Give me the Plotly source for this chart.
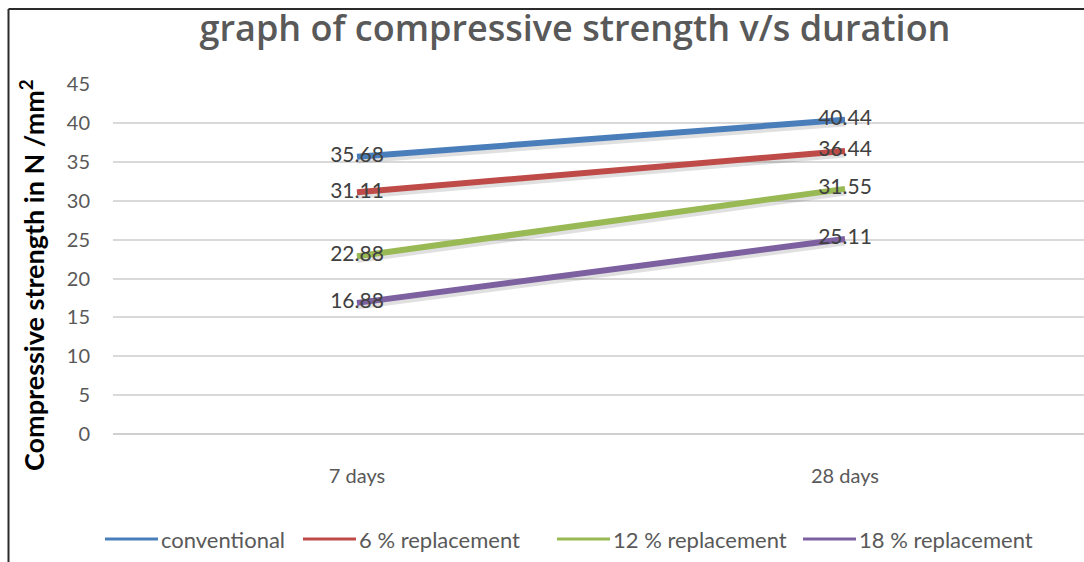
import plotly.graph_objects as go

# Curing duration categories and compressive strength (N/mm²) per mix
durations = ["7 days", "28 days"]
series_names = ["conventional", "6 % replacement", "12 % replacement", "18 % replacement"]
conventional = [35.68, 40.44]
replacement_6 = [31.11, 36.44]
replacement_12 = [22.88, 31.55]
replacement_18 = [16.88, 25.11]
y_ticks = [0, 5, 10, 15, 20, 25, 30, 35, 40, 45]

series_values = [conventional, replacement_6, replacement_12, replacement_18]
colors = ["#4A7EBB", "#BE4B48", "#98B954", "#7D60A0"]

W, H = 1084, 562
PLOT_L, PLOT_R, PLOT_T, PLOT_B = 113, 1084, 84, 434
plot_w = PLOT_R - PLOT_L
plot_h = PLOT_B - PLOT_T


def px_x(px):
    """Horizontal pixel position -> paper fraction."""
    return (px - PLOT_L) / plot_w


def px_y(py):
    """Vertical pixel position (from top) -> paper fraction."""
    return (PLOT_B - py) / plot_h


fig = go.Figure()

# soft drop shadow under each line
for vals in series_values:
    fig.add_trace(go.Scatter(
        x=durations, y=[v - 0.35 for v in vals], mode="lines",
        line=dict(color="rgba(0,0,0,0.12)", width=8),
        hoverinfo="skip", showlegend=False,
    ))

# thick data lines with value labels
for name, vals, col in zip(series_names, series_values, colors):
    fig.add_trace(go.Scatter(
        x=durations, y=vals, mode="lines+text", name=name,
        line=dict(color=col, width=6),
        text=[f"{v:.2f}" for v in vals], textposition="middle center",
        textfont=dict(family="Lato", size=21, color="#404040"),
        showlegend=False,
    ))

px_per_cat = 488
x0 = -(357 - PLOT_L) / px_per_cat
x1 = x0 + plot_w / px_per_cat

fig.update_layout(
    width=W, height=H,
    margin=dict(l=PLOT_L, r=W - PLOT_R, t=PLOT_T, b=H - PLOT_B, autoexpand=False),
    paper_bgcolor="white", plot_bgcolor="white",
    showlegend=False,
    title=dict(
        text="graph of compressive strength v/s duration",
        font=dict(family="Open Sans", size=36, color="#595959", weight=600),
        x=575 / W, xanchor="center", xref="container",
        y=1 - 28 / H, yanchor="middle", yref="container",
    ),
    xaxis=dict(
        type="category", range=[x0, x1], showgrid=False, zeroline=False,
        showline=False, ticks="", ticklabelstandoff=28,
        tickfont=dict(family="Lato", size=20, color="#595959"),
    ),
    yaxis=dict(
        range=[0, 45.05], tickvals=y_ticks, showgrid=True, gridcolor="#D9D9D9",
        gridwidth=1.5, zeroline=True, zerolinecolor="#D0D0D0", zerolinewidth=1.5,
        showline=False, ticks="", ticklabelstandoff=22,
        tickfont=dict(family="Lato", size=20, color="#595959"),
    ),
)

# rotated axis title
fig.add_annotation(
    text="Compressive strength in N /mm<sup>2</sup>",
    xref="paper", yref="paper",
    x=px_x(32), y=px_y(275),
    textangle=-90, showarrow=False, xanchor="center", yanchor="middle",
    font=dict(family="Lato", size=27, color="#000000", weight="bold"),
)

# legend row along the bottom: short coloured key line followed by its label
legend_y = 539
legend_starts = [105, 303, 557, 803]
key_len = 53
for name, col, start in zip(series_names, colors, legend_starts):
    fig.add_shape(type="line", xref="paper", yref="paper",
                  x0=px_x(start), x1=px_x(start + key_len),
                  y0=px_y(legend_y), y1=px_y(legend_y),
                  line=dict(color=col, width=3))
    fig.add_annotation(
        text=name, xref="paper", yref="paper",
        x=px_x(start + key_len + 1), y=px_y(legend_y),
        xanchor="left", yanchor="middle", showarrow=False,
        font=dict(family="Lato", size=22, color="#595959"),
    )

# outer chart frame (left and top edges)
fig.add_shape(type="line", xref="paper", yref="paper",
              x0=px_x(8.5), x1=px_x(8.5), y0=px_y(9), y1=px_y(H + 5),
              line=dict(color="#2b2b2b", width=2))
fig.add_shape(type="line", xref="paper", yref="paper",
              x0=px_x(8.5), x1=px_x(W + 5), y0=px_y(9), y1=px_y(9),
              line=dict(color="#2b2b2b", width=2))

fig.write_html("out.html")
